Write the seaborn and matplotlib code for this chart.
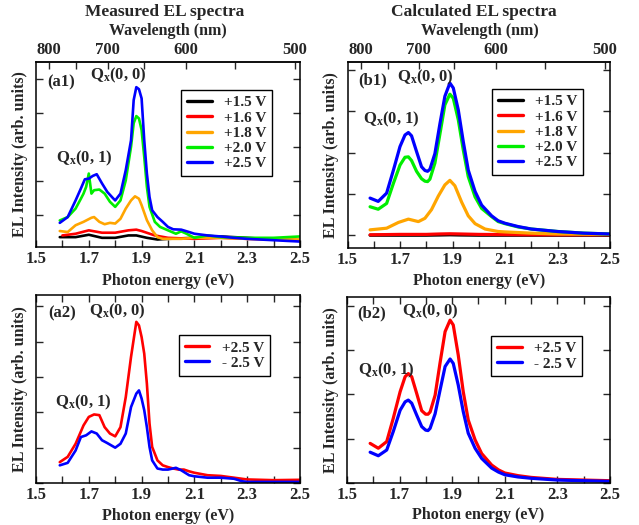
import numpy as np
import pandas as pd
import matplotlib
matplotlib.use("Agg")
import matplotlib.pyplot as plt
import seaborn as sns
from matplotlib.ticker import FixedLocator, FixedFormatter

# ---------------- data ----------------
# (a1) measured EL spectra at several forward voltages
a1_e_blue = [1.59, 1.62, 1.65, 1.67, 1.685, 1.70, 1.715, 1.73, 1.75, 1.77, 1.79, 1.80, 1.82, 1.84, 1.86,
             1.87, 1.88, 1.89, 1.90, 1.91, 1.92, 1.93, 1.94, 1.96, 1.98, 2.00, 2.02, 2.05, 2.08, 2.10,
             2.15, 2.20, 2.25, 2.30, 2.35, 2.40, 2.45, 2.50]
a1_blue = [0.78, 0.95, 1.44, 1.79, 2.06, 2.08, 2.16, 2.21, 1.94, 1.69, 1.52, 1.44, 1.64, 2.33, 3.21,
           4.39, 4.77, 4.71, 4.44, 3.21, 2.23, 1.54, 1.15, 0.95, 0.81, 0.66, 0.59, 0.58, 0.51, 0.46,
           0.41, 0.38, 0.34, 0.31, 0.29, 0.27, 0.25, 0.23]
a1_e_green = [1.59, 1.62, 1.65, 1.67, 1.68, 1.69, 1.70, 1.71, 1.72, 1.74, 1.76, 1.78, 1.80, 1.82, 1.84,
              1.86, 1.87, 1.88, 1.89, 1.90, 1.91, 1.92, 1.93, 1.95, 1.97, 2.00, 2.03, 2.05, 2.07, 2.10,
              2.15, 2.20, 2.30, 2.40, 2.50]
a1_green = [0.85, 0.95, 1.20, 1.49, 1.64, 1.84, 2.23, 1.64, 1.74, 1.76, 1.64, 1.40, 1.25, 1.44, 2.03,
            3.02, 3.71, 3.92, 3.85, 3.51, 2.72, 1.84, 1.25, 0.81, 0.66, 0.56, 0.46, 0.53, 0.46, 0.34,
            0.41, 0.36, 0.34, 0.34, 0.38]
a1_e_orange = [1.59, 1.62, 1.65, 1.68, 1.71, 1.72, 1.74, 1.76, 1.78, 1.80, 1.82, 1.84, 1.86, 1.875,
               1.89, 1.90, 1.92, 1.94, 1.96, 1.98, 2.05, 2.10, 2.20, 2.30, 2.50]
a1_orange = [0.54, 0.51, 0.71, 0.81, 0.93, 0.95, 0.81, 0.74, 0.78, 0.76, 0.90, 1.20, 1.44, 1.56,
             1.49, 1.30, 0.86, 0.56, 0.36, 0.31, 0.31, 0.34, 0.34, 0.31, 0.29]
a1_e_red = [1.60, 1.65, 1.70, 1.75, 1.80, 1.85, 1.88, 1.90, 1.95, 2.00, 2.10, 2.20, 2.30, 2.40, 2.50]
a1_red = [0.41, 0.46, 0.56, 0.49, 0.49, 0.56, 0.58, 0.54, 0.41, 0.34, 0.31, 0.34, 0.31, 0.29, 0.27]
a1_e_black = [1.59, 1.65, 1.70, 1.75, 1.80, 1.85, 1.88, 1.92, 1.96, 2.00, 2.10, 2.20, 2.30, 2.40, 2.50]
a1_black = [0.36, 0.36, 0.43, 0.34, 0.34, 0.41, 0.41, 0.34, 0.29, 0.31, 0.34, 0.38, 0.34, 0.29, 0.27]

# (b1) calculated EL spectra
b1_e = [1.586, 1.617, 1.649, 1.675, 1.700, 1.719, 1.732, 1.744, 1.763, 1.782, 1.795, 1.805, 1.814,
        1.833, 1.852, 1.871, 1.890, 1.903, 1.922, 1.941, 1.960, 1.986, 2.011, 2.049, 2.074, 2.10,
        2.15, 2.20, 2.30, 2.40, 2.50]
b1_blue = [0.90, 0.82, 1.02, 1.58, 2.15, 2.43, 2.49, 2.41, 2.03, 1.66, 1.57, 1.55, 1.60,
           1.98, 2.70, 3.37, 3.69, 3.57, 3.04, 2.27, 1.58, 1.06, 0.73, 0.47, 0.35, 0.29,
           0.21, 0.15, 0.09, 0.05, 0.03]
b1_green = [0.69, 0.63, 0.77, 1.26, 1.70, 1.89, 1.90, 1.81, 1.55, 1.37, 1.31, 1.30, 1.36,
            1.75, 2.45, 3.16, 3.42, 3.32, 2.80, 2.07, 1.42, 0.93, 0.65, 0.45, 0.33, 0.28,
            0.20, 0.15, 0.09, 0.05, 0.03]
b1_e_orange = [1.586, 1.649, 1.694, 1.732, 1.770, 1.795, 1.820, 1.846, 1.871, 1.890, 1.909, 1.935,
               1.960, 1.986, 2.024, 2.074, 2.10, 2.20, 2.30, 2.50]
b1_orange = [0.13, 0.17, 0.31, 0.39, 0.33, 0.41, 0.62, 0.95, 1.22, 1.33, 1.20, 0.80,
             0.47, 0.28, 0.15, 0.09, 0.08, 0.05, 0.03, 0.02]
b1_e_low = [1.586, 1.70, 1.80, 1.85, 1.89, 1.93, 2.00, 2.20, 2.50]
b1_red = [0.01, 0.02, 0.02, 0.03, 0.035, 0.03, 0.02, 0.01, 0.01]
b1_black = [0.0, 0.0, 0.0, 0.005, 0.01, 0.005, 0.0, 0.0, 0.0]

# (a2) measured, +2.5 V vs -2.5 V
a2_e_red = [1.59, 1.62, 1.65, 1.68, 1.70, 1.72, 1.74, 1.76, 1.78, 1.80, 1.82, 1.84, 1.86, 1.88, 1.89,
            1.90, 1.91, 1.92, 1.93, 1.94, 1.96, 1.98, 2.00, 2.02, 2.04, 2.06, 2.08, 2.10, 2.15, 2.20,
            2.25, 2.30, 2.40, 2.50]
a2_red = [0.59, 0.74, 1.11, 1.63, 1.87, 1.94, 1.92, 1.58, 1.40, 1.32, 1.58, 2.43, 3.57, 4.56, 4.46,
          4.13, 3.66, 2.81, 1.68, 1.02, 0.64, 0.50, 0.45, 0.41, 0.38, 0.38, 0.33, 0.29, 0.22, 0.20,
          0.15, 0.10, 0.08, 0.09]
a2_e_blue = [1.59, 1.62, 1.65, 1.67, 1.69, 1.71, 1.73, 1.75, 1.77, 1.80, 1.82, 1.84, 1.86, 1.88, 1.89,
             1.90, 1.91, 1.92, 1.93, 1.94, 1.96, 1.98, 2.00, 2.03, 2.05, 2.08, 2.10, 2.15, 2.20, 2.25,
             2.28, 2.30, 2.50]
a2_blue = [0.50, 0.57, 0.92, 1.30, 1.35, 1.46, 1.40, 1.21, 1.13, 1.00, 1.11, 1.40, 2.15, 2.53, 2.62,
           2.39, 2.06, 1.58, 1.02, 0.64, 0.41, 0.38, 0.38, 0.43, 0.36, 0.22, 0.19, 0.15, 0.15, 0.12,
           0.05, 0.03, 0.03]

# (b2) calculated, +2.5 V vs -2.5 V
b2_e = [1.588, 1.619, 1.651, 1.676, 1.702, 1.721, 1.733, 1.746, 1.765, 1.784, 1.799, 1.808, 1.816,
        1.835, 1.854, 1.873, 1.892, 1.904, 1.923, 1.942, 1.961, 1.987, 2.012, 2.050, 2.076, 2.10,
        2.15, 2.20, 2.30, 2.40, 2.50]
b2_red = [0.89, 0.78, 0.93, 1.46, 2.06, 2.40, 2.47, 2.40, 2.02, 1.63, 1.55, 1.55, 1.60,
          1.98, 2.72, 3.42, 3.68, 3.57, 2.89, 2.06, 1.42, 0.97, 0.66, 0.40, 0.29, 0.22,
          0.16, 0.12, 0.075, 0.06, 0.045]
b2_blue = [0.69, 0.61, 0.74, 1.16, 1.64, 1.83, 1.87, 1.80, 1.53, 1.27, 1.19, 1.18, 1.23,
           1.56, 2.10, 2.63, 2.80, 2.70, 2.21, 1.61, 1.12, 0.78, 0.55, 0.33, 0.24, 0.18,
           0.13, 0.10, 0.06, 0.045, 0.03]

labels5 = ["+1.5 V", "+1.6 V", "+1.8 V", "+2.0 V", "+2.5 V"]
labels2 = ["+2.5 V", "- 2.5 V"]
colors5 = ["#000000", "#ff0000", "#ffa500", "#00ee00", "#0000ff"]
colors2 = ["#ff0000", "#0000ff"]

wl_ticks = [800, 750, 700, 650, 600, 550, 500]
wl_labels = ["800", "", "700", "", "600", "", "500"]
ev_ticks = [1.5, 1.6, 1.7, 1.8, 1.9, 2.0, 2.1, 2.2, 2.3, 2.4, 2.5]
ev_labels = ["1.5", "", "1.7", "", "1.9", "", "2.1", "", "2.3", "", "2.5"]


def long_df(pairs):
    frames = []
    for lab, e, v in pairs:
        frames.append(pd.DataFrame({"E": e, "I": v, "label": lab}))
    return pd.concat(frames, ignore_index=True)


df_a1 = long_df([(labels5[0], a1_e_black, a1_black), (labels5[1], a1_e_red, a1_red),
                 (labels5[2], a1_e_orange, a1_orange), (labels5[3], a1_e_green, a1_green),
                 (labels5[4], a1_e_blue, a1_blue)])
df_b1 = long_df([(labels5[0], b1_e_low, b1_black), (labels5[1], b1_e_low, b1_red),
                 (labels5[2], b1_e_orange, b1_orange), (labels5[3], b1_e, b1_green),
                 (labels5[4], b1_e, b1_blue)])
df_a2 = long_df([(labels2[0], a2_e_red, a2_red), (labels2[1], a2_e_blue, a2_blue)])
df_b2 = long_df([(labels2[0], b2_e, b2_red), (labels2[1], b2_e, b2_blue)])

# ---------------- style ----------------
sns.set_style("ticks")
plt.rcParams["font.family"] = ["Liberation Serif", "DejaVu Serif"]
plt.rcParams["font.weight"] = "bold"
plt.rcParams["axes.labelweight"] = "bold"
plt.rcParams["mathtext.fontset"] = "custom"
plt.rcParams["mathtext.rm"] = "Liberation Serif:bold"
plt.rcParams["mathtext.bf"] = "Liberation Serif:bold"
plt.rcParams["mathtext.it"] = "Liberation Serif:bold"
plt.rcParams["axes.linewidth"] = 1.1
plt.rcParams["xtick.direction"] = "in"
plt.rcParams["ytick.direction"] = "in"
plt.rcParams["lines.solid_joinstyle"] = "round"
plt.rcParams["lines.solid_capstyle"] = "round"

fig = plt.figure(figsize=(6.39, 5.25), dpi=100)
W, H = 639.0, 525.0


def add_ax(l, r, t, b):
    return fig.add_axes([l / W, 1 - b / H, (r - l) / W, (b - t) / H])


ax_a1 = add_ax(36, 300, 62, 247)
ax_b1 = add_ax(347.5, 610, 62, 248)
ax_a2 = add_ax(36, 300, 295, 483)
ax_b2 = add_ax(347, 610, 296.7, 482.7)

FS_TICK = 12
FS_LAB = 11.5
FS_LEG = 11


def ev2nm(x):
    x = np.asarray(x, dtype=float)
    with np.errstate(divide="ignore"):
        return 1239.84 / x


def style(ax, df, order, pal, ylim, yticks, top_wl, leg_anchor, ylab_x, xlab_y, lw):
    sns.lineplot(data=df, x="E", y="I", hue="label", hue_order=order, palette=pal,
                 ax=ax, linewidth=lw, sort=False, estimator=None)
    ax.set_xlim(1.5, 2.5)
    ax.set_ylim(*ylim)
    ax.xaxis.set_major_locator(FixedLocator(ev_ticks))
    ax.xaxis.set_major_formatter(FixedFormatter(ev_labels))
    ax.set_yticks(yticks)
    ax.tick_params(axis="y", left=True, right=True, labelleft=False, length=5, width=1)
    ax.tick_params(axis="x", bottom=True, top=not top_wl, length=5, width=1,
                   labelsize=FS_TICK, pad=3)
    for lab in ax.get_xticklabels():
        lab.set_fontweight("bold")
    ax.set_xlabel("Photon energy (eV)", fontsize=FS_LAB, fontweight="bold")
    ax.xaxis.set_label_coords(0.5, xlab_y)
    ax.set_ylabel("EL Intensity (arb. units)", fontsize=FS_LAB, fontweight="bold")
    ax.yaxis.set_label_coords(ylab_x, 0.5)
    for s in ax.spines.values():
        s.set_visible(True)
        s.set_linewidth(1.1)
        s.set_color("black")
    if top_wl:
        sec = ax.secondary_xaxis("top", functions=(ev2nm, ev2nm))
        sec.xaxis.set_major_locator(FixedLocator(wl_ticks))
        sec.xaxis.set_major_formatter(FixedFormatter(wl_labels))
        sec.tick_params(axis="x", direction="in", length=5, width=1, labelsize=FS_TICK, pad=3)
        for lab in sec.get_xticklabels():
            lab.set_fontweight("bold")
    handles, labs = ax.get_legend_handles_labels()
    for h in handles:
        h.set_linewidth(2.4)
    leg = ax.legend(handles, labs, loc="upper right", bbox_to_anchor=leg_anchor,
                    frameon=True, fancybox=False, edgecolor="black", framealpha=1,
                    prop={"family": "Liberation Serif", "weight": "bold", "size": FS_LEG},
                    handlelength=1.6, handletextpad=0.8, labelspacing=0.1,
                    borderpad=0.38, borderaxespad=0.0)
    leg.get_frame().set_linewidth(1.0)


style(ax_a1, df_a1, labels5, colors5, (0.07, 5.51), [1, 2, 3, 4, 5], True,
      (0.894, 0.849), -0.03, -0.14, 1.9)
style(ax_b1, df_b1, labels5, colors5, (-0.31, 4.2), [0, 1, 2, 3, 4], True,
      (0.897, 0.855), -0.032, -0.135, 2.3)
style(ax_a2, df_a2, labels2, colors2, (0.0, 5.32), [0, 1, 2, 3, 4, 5], False,
      (0.886, 0.787), -0.03, -0.133, 1.9)
style(ax_b2, df_b2, labels2, colors2, (0.0, 4.21), [0, 1, 2, 3, 4], False,
      (0.894, 0.789), -0.032, -0.133, 2.3)

# panel annotations
ann_kw = dict(fontsize=12, fontweight="bold", va="center", ha="left")
q00 = r"Q$_{\mathbf{x}}$(0, 0)"
q01 = r"Q$_{\mathbf{x}}$(0, 1)"
ax_a1.text(0.042, 0.892, "(a1)", transform=ax_a1.transAxes, **ann_kw)
ax_a1.text(0.205, 0.925, q00, transform=ax_a1.transAxes, **ann_kw)
ax_a1.text(0.076, 0.48, q01, transform=ax_a1.transAxes, **ann_kw)

ax_b1.text(0.04, 0.903, "(b1)", transform=ax_b1.transAxes, **ann_kw)
ax_b1.text(0.19, 0.915, q00, transform=ax_b1.transAxes, **ann_kw)
ax_b1.text(0.059, 0.69, q01, transform=ax_b1.transAxes, **ann_kw)

ax_a2.text(0.045, 0.904, "(a2)", transform=ax_a2.transAxes, **ann_kw)
ax_a2.text(0.2, 0.915, q00, transform=ax_a2.transAxes, **ann_kw)
ax_a2.text(0.072, 0.43, q01, transform=ax_a2.transAxes, **ann_kw)

ax_b2.text(0.038, 0.912, "(b2)", transform=ax_b2.transAxes, **ann_kw)
ax_b2.text(0.209, 0.92, q00, transform=ax_b2.transAxes, **ann_kw)
ax_b2.text(0.042, 0.605, q01, transform=ax_b2.transAxes, **ann_kw)

# titles and wavelength labels
fig.text(165 / W, 1 - 12 / H, "Measured EL spectra", ha="center", va="center",
         fontsize=12.5, fontweight="bold")
fig.text(474 / W, 1 - 12 / H, "Calculated EL spectra", ha="center", va="center",
         fontsize=12.5, fontweight="bold")
fig.text(168 / W, 1 - 31 / H, "Wavelength (nm)", ha="center", va="center",
         fontsize=FS_LAB, fontweight="bold")
fig.text(480 / W, 1 - 31 / H, "Wavelength (nm)", ha="center", va="center",
         fontsize=FS_LAB, fontweight="bold")

fig.savefig("out.png", dpi=100, facecolor="white")
